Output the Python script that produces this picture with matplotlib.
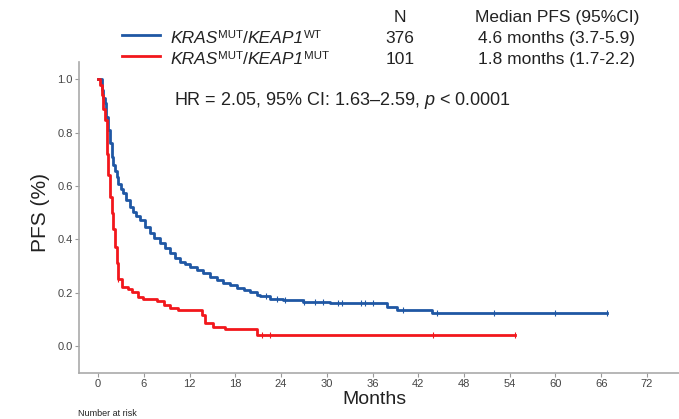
import matplotlib
matplotlib.use("Agg")
import matplotlib.pyplot as plt

plt.rcParams['font.family'] = ['Liberation Sans', 'DejaVu Sans']
plt.rcParams['mathtext.fontset'] = 'custom'
plt.rcParams['mathtext.rm'] = 'Liberation Sans'
plt.rcParams['mathtext.it'] = 'Liberation Sans:italic'

# KRAS MUT / KEAP1 WT (blue)
wt_time = [0, 0.5, 0.7, 0.9, 1.1, 1.35, 1.55, 1.8, 2.0, 2.25, 2.45, 2.67, 3.0, 3.3,
           3.7, 4.2, 4.6, 5.0, 5.5, 6.1, 6.8, 7.4, 8.1, 8.8, 9.45, 10.1, 10.8, 11.4,
           12.1, 13.0, 13.8, 14.7, 15.6, 16.4, 17.3, 18.2, 19.1, 19.9, 20.8, 21.3,
           22.6, 24.3, 26.9, 30.4, 36.1, 37.9, 39.2, 43.8, 66.8]
wt_surv = [1.0, 0.96, 0.93, 0.909, 0.86, 0.809, 0.76, 0.709, 0.68, 0.655, 0.632, 0.609,
           0.59, 0.572, 0.548, 0.522, 0.502, 0.488, 0.472, 0.447, 0.422, 0.404, 0.385,
           0.366, 0.347, 0.331, 0.316, 0.306, 0.297, 0.284, 0.272, 0.259, 0.247, 0.237,
           0.228, 0.219, 0.210, 0.204, 0.193, 0.187, 0.178, 0.172, 0.166, 0.163, 0.160,
           0.148, 0.135, 0.122, 0.122]
wt_cens = [22.0, 23.5, 24.5, 27.0, 28.5, 29.5, 31.5, 32.0, 34.5, 35.0, 36.0, 40.0,
           44.5, 52.0, 60.0, 66.8]

# KRAS MUT / KEAP1 MUT (red)
mut_time = [0, 0.28, 0.5, 0.7, 0.92, 1.14, 1.35, 1.57, 1.8, 2.0, 2.23, 2.45, 2.67, 3.1,
            3.9, 4.5, 5.3, 5.9, 7.7, 8.6, 9.45, 10.5, 13.6, 14.0, 15.1, 16.7, 20.8, 54.7]
mut_surv = [1.0, 0.98, 0.94, 0.89, 0.846, 0.72, 0.64, 0.56, 0.497, 0.44, 0.372, 0.31,
            0.253, 0.222, 0.215, 0.204, 0.185, 0.178, 0.170, 0.154, 0.141, 0.135, 0.116,
            0.085, 0.072, 0.062, 0.041, 0.041]
mut_cens = [2.67, 21.5, 22.5, 44.0, 54.7]

x_ticks = [0, 6, 12, 18, 24, 30, 36, 42, 48, 54, 60, 66, 72]
y_ticks = [0.0, 0.2, 0.4, 0.6, 0.8, 1.0]

# (text, italic, superscript)
groups = [[('KRAS', True, False), ('MUT', False, True), ('/', False, False),
           ('KEAP1', True, False), ('WT', False, True)],
          [('KRAS', True, False), ('MUT', False, True), ('/', False, False),
           ('KEAP1', True, False), ('MUT', False, True)]]
n_pts = ['376', '101']
median_pfs = ['4.6 months (3.7-5.9)', '1.8 months (1.7-2.2)']

blue = '#1f57a4'
red = '#f2171c'
txt_col = '#222222'

fig = plt.figure(figsize=(6.79, 4.19), dpi=100)
ax = fig.add_axes([0.1163, 0.1098, 0.8837, 0.742])

ax.plot(wt_time, wt_surv, drawstyle='steps-post', color=blue, lw=2.0)
ax.plot(mut_time, mut_surv, drawstyle='steps-post', color=red, lw=2.0)


def surv_at(times, survs, t):
    s = survs[0]
    for ti, si in zip(times, survs):
        if ti <= t:
            s = si
    return s


ax.plot(wt_cens, [surv_at(wt_time, wt_surv, t) for t in wt_cens], ls='none',
        marker='|', ms=4, mew=0.8, color=blue)
ax.plot(mut_cens, [surv_at(mut_time, mut_surv, t) for t in mut_cens], ls='none',
        marker='|', ms=4, mew=0.8, color=red)

ax.set_xlim(-2.5, 76.2)
ax.set_ylim(-0.101, 1.064)
ax.set_xticks(x_ticks)
ax.set_yticks(y_ticks)
ax.set_yticklabels([f'{v:.1f}' for v in y_ticks])
ax.tick_params(axis='both', colors='#999999', length=3, width=0.8,
               labelsize=8, labelcolor='#444444', pad=1.5)
for side in ['top', 'right']:
    ax.spines[side].set_visible(False)
for side in ['left', 'bottom']:
    ax.spines[side].set_color('#aaaaaa')
    ax.spines[side].set_linewidth(1.2)

fig.text(0.059, 0.494, 'PFS (%)', rotation=90, ha='center', va='center', fontsize=15,
         color=txt_col)
fig.text(0.551, 0.046, 'Months', ha='center', va='center', fontsize=14, color=txt_col)
fig.text(0.115, 0.003, 'Number at risk', ha='left', va='bottom', fontsize=6.5,
         color=txt_col)

# legend table
fs = 12.5
renderer = fig.canvas.get_renderer()
inv = fig.transFigure.inverted()


def rich_label(x, y, parts):
    for txt, it, sup in parts:
        t = fig.text(x, y + (0.013 if sup else 0), txt, fontsize=fs * (0.66 if sup else 1),
                     style='italic' if it else 'normal', ha='left', va='baseline',
                     color=txt_col)
        bb = t.get_window_extent(renderer)
        x = inv.transform((bb.x1, bb.y0))[0]


fig.text(0.589, 0.9475, 'N', ha='center', va='baseline', fontsize=fs, color=txt_col)
fig.text(0.82, 0.9475, 'Median PFS (95%CI)', ha='center', va='baseline', fontsize=fs,
         color=txt_col)
line_y = [0.9165, 0.866]
base_y = [0.897, 0.847]
for ly, by, parts, n, med, c in zip(line_y, base_y, groups, n_pts, median_pfs, [blue, red]):
    fig.add_artist(plt.Line2D([0.179, 0.236], [ly, ly], color=c, lw=2.0))
    rich_label(0.251, by, parts)
    fig.text(0.589, by, n, ha='center', va='baseline', fontsize=fs, color=txt_col)
    fig.text(0.82, by, med, ha='center', va='baseline', fontsize=fs, color=txt_col)

fig.text(0.256, 0.761, r'HR = 2.05, 95% CI: 1.63–2.59, $\mathit{p}$ < 0.0001',
         ha='left', va='center', fontsize=13, color=txt_col)

plt.savefig('out.png', dpi=100)
